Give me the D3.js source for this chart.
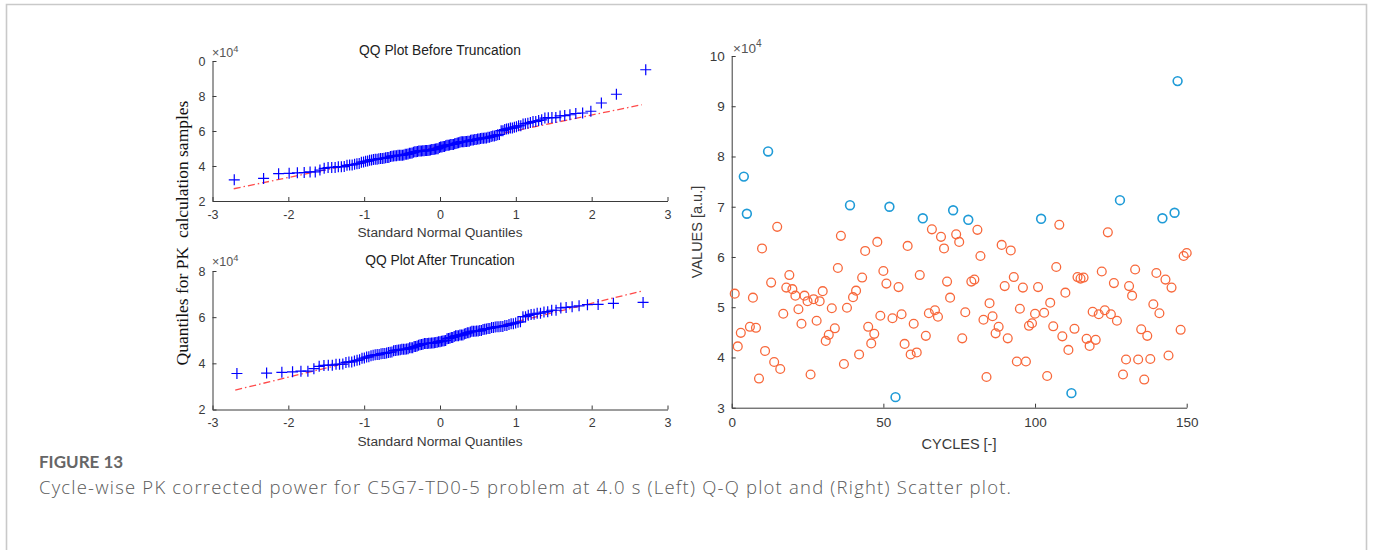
<!DOCTYPE html>
<html><head><meta charset="utf-8">
<script src="https://cdn.jsdelivr.net/npm/d3@7"></script>
<style>
body{margin:0;background:#fff;}
svg{display:block;}
text{font-family:"Liberation Sans",Arial,Helvetica,sans-serif;}
</style>
</head><body>
<svg id="c" width="1373" height="550"></svg>
<script>
// ---------- DATA (values in units of 1e4) ----------
// Kept (orange) samples: cycle index and value
const keptCycles = [1,2,3,6,7,8,9,10,11,13,14,15,16,17,18,19,20,21,22,23,24,25,26,27,28,29,30,31,32,33,34,35,36,37,38,40,41,42,43,44,45,46,47,48,49,50,51,53,55,56,57,58,59,60,61,62,64,65,66,67,68,69,70,71,72,74,75,76,77,79,80,81,82,83,84,85,86,87,88,89,90,91,92,93,94,95,96,97,98,99,100,101,103,104,105,106,107,108,109,110,111,113,114,115,116,117,118,119,120,121,122,123,124,125,126,127,129,130,131,132,133,134,135,136,137,138,139,140,141,143,144,145,148,149,150];
const keptValues = [5.27,4.22,4.49,4.61,5.19,4.59,3.58,6.17,4.13,5.49,3.91,6.60,3.77,4.87,5.39,5.64,5.36,5.23,4.96,4.67,5.23,5.12,3.66,5.16,4.73,5.12,5.32,4.33,4.45,4.98,4.58,5.78,6.42,3.87,4.99,5.20,5.33,4.06,5.59,6.12,4.61,4.28,4.47,6.30,4.83,5.72,5.47,4.78,5.40,4.86,4.27,6.22,4.06,4.67,4.10,5.64,4.43,4.88,6.55,4.94,4.81,6.40,6.17,5.51,5.19,6.45,6.30,4.38,4.90,5.51,5.55,6.54,6.02,4.75,3.61,5.08,4.82,4.48,4.61,6.24,5.42,4.38,6.13,5.60,3.92,4.97,5.39,3.92,4.63,4.68,4.87,5.40,4.89,3.63,5.09,4.62,5.80,6.64,4.42,5.29,4.15,4.57,5.60,5.57,5.59,4.37,4.23,4.91,4.35,4.86,5.71,4.94,6.49,4.86,5.48,4.73,3.66,3.96,5.42,5.23,5.75,3.96,4.56,3.56,4.43,3.97,5.06,5.68,4.88,5.55,4.04,5.39,4.55,6.02,6.08];
// Truncated (blue) samples
const truncCycles = [4,5,12,39,52,54,63,73,78,102,112,128,142,146,147];
const truncValues = [7.60,6.86,8.10,7.03,7.00,3.21,6.77,6.93,6.74,6.76,3.29,7.13,6.77,6.88,9.50];

// Axis ticks
const qqXTicks = [-3,-2,-1,0,1,2,3];
const qqTopYTicks = [2,4,6,8,10];
const qqTopYLabels = ["2","4","6","8","0"];
const qqBotYTicks = [2,4,6,8];
const scXTicks = [0,50,100,150];
const scYTicks = [3,4,5,6,7,8,9,10];

// QQ reference lines (endpoints)
const refLineBefore = [[-2.72,2.70],[2.66,7.50]];
const refLineAfter  = [[-2.70,2.84],[2.66,7.13]];

// ---------- helpers ----------
// standard normal quantile (for QQ plotting positions (i-0.5)/n)
function normInv(p){
  const a=[-3.969683028665376e+01,2.209460984245205e+02,-2.759285104469687e+02,1.383577518672690e+02,-3.066479806614716e+01,2.506628277459239e+00];
  const b=[-5.447609879822406e+01,1.615858368580409e+02,-1.556989798598866e+02,6.680131188771972e+01,-1.328068155288572e+01];
  const c=[-7.784894002430293e-03,-3.223964580411365e-01,-2.400758277161838e+00,-2.549732539343734e+00,4.374664141464968e+00,2.938163982698783e+00];
  const d=[7.784695709041462e-03,3.224671290700398e-01,2.445134137142996e+00,3.754408661907416e+00];
  const pl=0.02425;
  let q,r;
  if(p<pl){q=Math.sqrt(-2*Math.log(p));return (((((c[0]*q+c[1])*q+c[2])*q+c[3])*q+c[4])*q+c[5])/((((d[0]*q+d[1])*q+d[2])*q+d[3])*q+1);}
  if(p<=1-pl){q=p-0.5;r=q*q;return (((((a[0]*r+a[1])*r+a[2])*r+a[3])*r+a[4])*r+a[5])*q/(((((b[0]*r+b[1])*r+b[2])*r+b[3])*r+b[4])*r+1);}
  q=Math.sqrt(-2*Math.log(1-p));return -(((((c[0]*q+c[1])*q+c[2])*q+c[3])*q+c[4])*q+c[5])/((((d[0]*q+d[1])*q+d[2])*q+d[3])*q+1);
}
function qqPoints(vals){
  const s=vals.slice().sort((x,y)=>x-y), n=s.length;
  return s.map((v,i)=>({q:normInv((i+0.5)/n), v}));
}

const svg = d3.select("#c");
const AX = "#3a3a3a";

// figure frame
svg.append("path").attr("d","M6.5,550V4.5H1366.5V550")
  .attr("fill","none").attr("stroke","#c9c9c9").attr("stroke-width",1.6);

function styleAxis(g, fs){
  g.selectAll("path.domain").attr("stroke",AX).attr("stroke-width",1);
  g.selectAll(".tick line").attr("stroke",AX).attr("stroke-width",1);
  g.selectAll(".tick text").attr("fill",AX).attr("font-size",fs)
   .attr("font-family",'"Liberation Sans",Arial,sans-serif');
}
function sup(g, x, y, fs){
  const t = g.append("text").attr("x",x).attr("y",y).attr("fill","#555").attr("font-size",fs);
  t.append("tspan").text("\u00d7");
  t.append("tspan").text("10");
  t.append("tspan").attr("font-size",fs*0.75).attr("dy",-fs*0.42).text("4");
}

// ---------- QQ plots ----------
const xQQ = d3.scaleLinear().domain([-3,3]).range([212.5,667.5]);

function qqPanel(yScale, yTicks, yLabels, pts, ref, title, titleY, xLabY, supY){
  const g = svg.append("g");
  const x0 = yScale.range()[0];
  const gx = g.append("g").attr("transform",`translate(0,${x0})`)
    .call(d3.axisBottom(xQQ).tickValues(qqXTicks).tickSizeInner(-4).tickSizeOuter(0).tickPadding(9)
      .tickFormat(d=>d<0?"-"+Math.abs(d):d));
  styleAxis(gx, 12.5);
  const gy = g.append("g").attr("transform",`translate(${xQQ.range()[0]},0)`)
    .call(d3.axisLeft(yScale).tickValues(yTicks).tickSizeInner(-4).tickSizeOuter(0).tickPadding(7)
      .tickFormat((d,i)=>yLabels[i]));
  styleAxis(gy, 12.5);
  // reference line
  g.append("path").attr("d", d3.line().x(d=>xQQ(d[0])).y(d=>yScale(d[1]))(ref))
    .attr("fill","none").attr("stroke","#ff2a2a").attr("stroke-opacity",0.85)
    .attr("stroke-width",1.3).attr("stroke-dasharray","7,3,1.5,3");
  // plus markers
  g.append("g").selectAll("path").data(pts).join("path")
    .attr("transform",d=>`translate(${xQQ(d.q)},${yScale(d.v)})`)
    .attr("d","M-5.5,0H5.5M0,-5.5V5.5").attr("stroke","#0000ff").attr("stroke-width",1.2).attr("fill","none");
  g.append("text").attr("x",440).attr("y",titleY).attr("text-anchor","middle")
    .attr("font-size",13.8).attr("fill","#222").text(title);
  g.append("text").attr("x",440).attr("y",xLabY).attr("text-anchor","middle")
    .attr("font-size",13.7).attr("fill",AX).text("Standard Normal Quantiles");
  sup(g, 212, supY, 12.5);
}

const yTop = d3.scaleLinear().domain([2,10]).range([201,61]);
const yBot = d3.scaleLinear().domain([2,8]).range([409.5,271]);
const allValues = keptValues.concat(truncValues);
qqPanel(yTop, qqTopYTicks, qqTopYLabels, qqPoints(allValues), refLineBefore,
  "QQ Plot Before Truncation", 55, 237, 57);
qqPanel(yBot, qqBotYTicks, qqBotYTicks.map(String), qqPoints(keptValues), refLineAfter,
  "QQ Plot After Truncation", 265, 446, 266);

svg.append("text").attr("transform","translate(188,233) rotate(-90)")
  .attr("text-anchor","middle").attr("font-size",17.5).attr("fill","#111")
  .style("font-family",'"Liberation Serif","Times New Roman",serif')
  .style("white-space","pre").text("Quantiles for PK  calculation samples");

// ---------- Scatter ----------
const xS = d3.scaleLinear().domain([0,150]).range([731.7,1186.7]);
const yS = d3.scaleLinear().domain([3,10]).range([407.7,56]);
const gs = svg.append("g");
const gsx = gs.append("g").attr("transform",`translate(0,${yS.range()[0]})`)
  .call(d3.axisBottom(xS).tickValues(scXTicks).tickSizeInner(-4).tickSizeOuter(0).tickPadding(10)
    .tickFormat(d3.format("d")));
styleAxis(gsx, 13.5);
const gsy = gs.append("g").attr("transform",`translate(${xS.range()[0]},0)`)
  .call(d3.axisLeft(yS).tickValues(scYTicks).tickSizeInner(-4).tickSizeOuter(0).tickPadding(7)
    .tickFormat(d3.format("d")));
styleAxis(gsy, 13.5);
sup(gs, 733, 53, 13.5);

gs.append("g").selectAll("circle").data(keptCycles.map((c,i)=>[c,keptValues[i]])).join("circle")
  .attr("cx",d=>xS(d[0])).attr("cy",d=>yS(d[1])).attr("r",4.4)
  .attr("fill","none").attr("stroke","#f8683b").attr("stroke-width",1.3);
gs.append("g").selectAll("circle").data(truncCycles.map((c,i)=>[c,truncValues[i]])).join("circle")
  .attr("cx",d=>xS(d[0])).attr("cy",d=>yS(d[1])).attr("r",4.4)
  .attr("fill","none").attr("stroke","#1f9bd7").attr("stroke-width",1.6);

gs.append("text").attr("transform","translate(702,232) rotate(-90)")
  .attr("text-anchor","middle").attr("font-size",14.5).attr("fill",AX).text("VALUES [a.u.]");
gs.append("text").attr("x",959).attr("y",449).attr("text-anchor","middle")
  .attr("font-size",14.5).attr("fill",AX).text("CYCLES [-]");

// ---------- Caption ----------
svg.append("text").attr("x",39).attr("y",468).attr("font-size",17).attr("font-weight",700)
  .attr("fill","#666").style("font-family","Lato,'Open Sans',sans-serif").text("FIGURE 13");
svg.append("text").attr("x",39).attr("y",494).attr("font-size",18.5)
  .attr("textLength",972).attr("lengthAdjust","spacing")
  .attr("fill","#5a5a5a").style("font-family","'Open Sans',Lato,sans-serif").style("font-weight",300)
  .text("Cycle-wise PK corrected power for C5G7-TD0-5 problem at 4.0 s (Left) Q-Q plot and (Right) Scatter plot.");
</script>
</body></html>
